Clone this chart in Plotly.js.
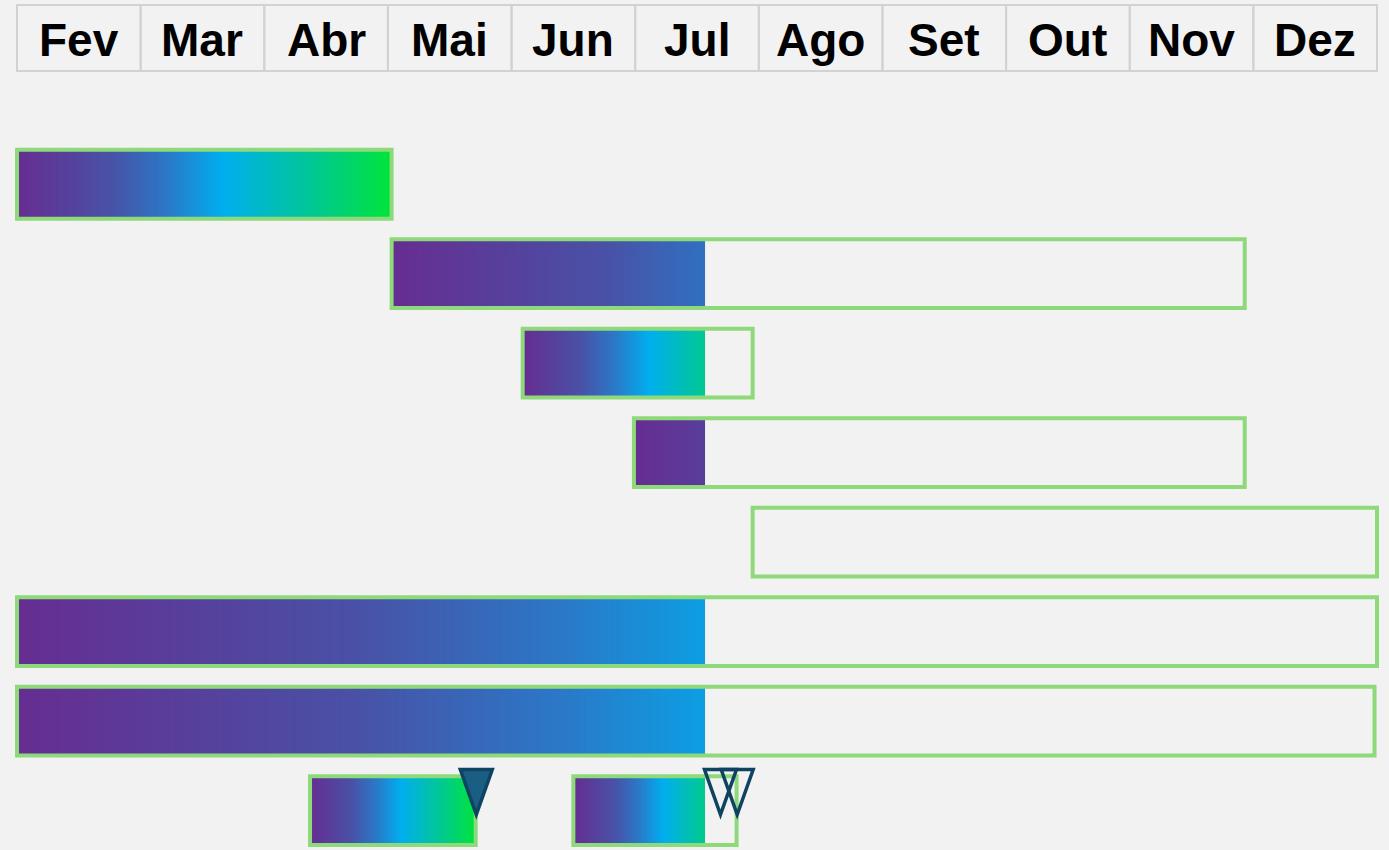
<!DOCTYPE html>
<html>
<head>
<meta charset="utf-8">
<script src="https://cdn.plot.ly/plotly-3.0.1.min.js"></script>
<style>
  html, body { margin: 0; padding: 0; background: #f2f2f2; }
  #chart { width: 1389px; height: 850px; }
</style>
</head>
<body>
<div id="chart"></div>
<script>
// ---- data ----
const months = ['Fev', 'Mar', 'Abr', 'Mai', 'Jun', 'Jul', 'Ago', 'Set', 'Out', 'Nov', 'Dez'];
const taskRow   = [0, 1, 2, 3, 4, 5, 6, 7, 7];
const taskStart = [0.00, 3.03, 4.09, 4.99, 5.95, 0.00, 0.00, 2.37, 4.50];
const taskEnd   = [3.03, 9.93, 5.95, 9.93, 11.00, 11.00, 10.98, 3.71, 5.82];
const today = 5.565;
const milestoneRow  = [7, 7, 7];
const milestoneX    = [3.715, 5.69, 5.825];
const milestoneDone = [true, false, false];

// ---- style ----
const gradient = [[0, '#662d91'], [0.25, '#4951a6'], [0.4, '#2b78c7'], [0.55, '#00aeef'], [0.8, '#00c98f'], [1, '#00e43a']];
const outline = '#8ed97a';
const barH = 0.77;

const traces = [];
const shapes = [];
const annotations = [];

// progress fills (gradient across full task span, clipped at today)
taskRow.forEach((r, i) => {
  const s = taskStart[i];
  const f = Math.min(taskEnd[i], today);
  if (f > s) {
    traces.push({
      type: 'scatter',
      mode: 'lines',
      x: [s, f, f, s, s],
      y: [r - barH / 2, r - barH / 2, r + barH / 2, r + barH / 2, r - barH / 2],
      fill: 'toself',
      fillgradient: { type: 'horizontal', colorscale: gradient, start: taskStart[i], stop: taskEnd[i] },
      line: { width: 0 },
      hoverinfo: 'skip',
      showlegend: false
    });
  }
  shapes.push({
    type: 'rect', xref: 'x', yref: 'y',
    x0: s, x1: taskEnd[i], y0: r - barH / 2, y1: r + barH / 2,
    line: { color: outline, width: 4 },
    fillcolor: 'rgba(0,0,0,0)',
    layer: 'above'
  });
});

// milestones
milestoneX.forEach((mx, i) => {
  shapes.push({
    type: 'path', xref: 'x', yref: 'y',
    xsizemode: 'pixel', ysizemode: 'pixel',
    xanchor: mx, yanchor: milestoneRow[i],
    path: 'M-16,41 L16,41 L0,-4 Z',
    fillcolor: milestoneDone[i] ? '#1a5e84' : 'rgba(0,0,0,0)',
    line: { color: '#0e4462', width: 3.5 },
    layer: 'above'
  });
});

// month header
months.forEach((m, i) => {
  shapes.push({
    type: 'rect', xref: 'x', yref: 'paper',
    x0: i, x1: i + 1, y0: 1 - 71 / 850, y1: 1 - 5 / 850,
    line: { color: '#d2d2d2', width: 2 },
    fillcolor: 'rgba(0,0,0,0)'
  });
  annotations.push({
    xref: 'x', yref: 'paper',
    x: i + 0.5, y: 1 - 40 / 850,
    xanchor: 'center', yanchor: 'middle',
    text: m, showarrow: false,
    font: { family: 'Liberation Sans, Arial, sans-serif', size: 46, color: '#000000', weight: 700 }
  });
});

const layout = {
  width: 1389, height: 850,
  margin: { l: 0, r: 0, t: 0, b: 0 },
  paper_bgcolor: '#f2f2f2',
  plot_bgcolor: '#f2f2f2',
  showlegend: false,
  hovermode: false,
  xaxis: { range: [-0.1375, 11.097], visible: false, fixedrange: true },
  yaxis: { range: [7.44, -2.058], visible: false, fixedrange: true },
  shapes: shapes,
  annotations: annotations
};

Plotly.newPlot('chart', traces, layout, { staticPlot: true, displayModeBar: false });
</script>
</body>
</html>
